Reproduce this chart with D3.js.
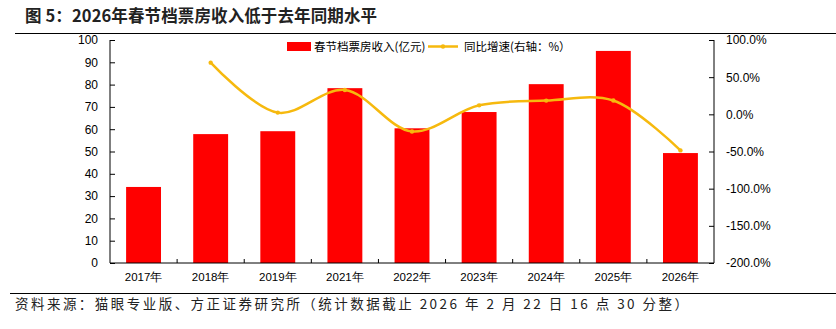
<!DOCTYPE html>
<html><head><meta charset="utf-8">
<script src="https://cdn.jsdelivr.net/npm/d3@7/dist/d3.min.js"></script>
<style>body{margin:0;background:#fff}svg{display:block}</style>
</head><body>
<svg id="c" width="836" height="329"></svg>
<script>
const categories = ["2017年","2018年","2019年","2021年","2022年","2023年","2024年","2025年","2026年"];
const boxOffice = [34.1, 57.8, 59.1, 78.4, 60.4, 67.7, 80.2, 95.1, 49.3];
const growth = [null, 69.5, 2.3, 32.8, -23.0, 12.1, 18.5, 18.6, -48.5];
const leftTicks = [0,10,20,30,40,50,60,70,80,90,100];
const rightTicks = [-200,-150,-100,-50,0,50,100];
const title = "图 5：2026年春节档票房收入低于去年同期水平";
const source = "资料来源：猫眼专业版、方正证券研究所（统计数据截止 2026 年 2 月 22 日 16 点 30 分整）";

const svg = d3.select("#c");
const L = 110, R = 714, T = 40, B = 263;
const x = d3.scaleBand().domain(categories).range([L, R]).paddingInner(0.48).paddingOuter(0.24);
const xb = d3.scaleBand().domain(categories).range([L, R]);
const y = d3.scaleLinear().domain([0, 100]).range([B, T]);
const y2 = d3.scaleLinear().domain([-200, 100]).range([B, T]);
const fontA = "'Liberation Sans', Arial, sans-serif";
const fontC = "'Noto Sans CJK SC', sans-serif";

// title
svg.append("text").attr("x", 25).attr("y", 22).attr("font-family", fontC).attr("font-weight", "bold")
  .attr("font-size", 16.5).attr("fill", "#222").attr("textLength", 352).attr("lengthAdjust", "spacing").text(title);
svg.append("line").attr("x1", 15).attr("x2", 836).attr("y1", 33.5).attr("y2", 33.5).attr("stroke", "#000").attr("stroke-width", 1);

// bars
svg.append("g").selectAll("rect").data(boxOffice).join("rect")
  .attr("x", (d, i) => x(categories[i])).attr("width", x.bandwidth())
  .attr("y", d => y(d)).attr("height", d => B - y(d)).attr("fill", "#FF0000");

// axes
const gl = svg.append("g").attr("transform", `translate(${L},0)`)
  .call(d3.axisLeft(y).tickValues(leftTicks).tickSize(-5).tickPadding(12));
const gr = svg.append("g").attr("transform", `translate(${R},0)`)
  .call(d3.axisRight(y2).tickValues(rightTicks).tickSize(-5).tickPadding(12).tickFormat(d => d.toFixed(1) + "%"));
const gb = svg.append("g").attr("transform", `translate(0,${B})`)
  .call(d3.axisBottom(xb).tickSize(0).tickPadding(10));
svg.append("g").selectAll("line").data(categories.slice(1)).join("line")
  .attr("x1", d => xb(d)).attr("x2", d => xb(d)).attr("y1", B).attr("y2", B - 4)
  .attr("stroke", "#000");
[gl, gr, gb].forEach(g => {
  g.selectAll("path.domain").attr("stroke", "#000");
  g.selectAll(".tick line").attr("stroke", "#000");
  g.selectAll("text").attr("font-family", fontA).attr("font-size", 12).attr("fill", "#000");
});
gb.selectAll("text").attr("font-size", 11.5);
gl.selectAll("path.domain").attr("d", `M0,${T}V${B}`);
gr.selectAll("path.domain").attr("d", `M0,${T}V${B}`);
gb.selectAll("path.domain").attr("d", `M${L},0H${R}`);

// line
const pts = growth.map((g, i) => [xb(categories[i]) + xb.bandwidth() / 2, g]).filter(p => p[1] !== null);
const line = d3.line().x(p => p[0]).y(p => y2(p[1])).curve(d3.curveCatmullRom.alpha(0.5));
svg.append("path").datum(pts).attr("d", line).attr("fill", "none")
  .attr("stroke", "#F6B90E").attr("stroke-width", 2.5);
svg.append("g").selectAll("circle").data(pts).join("circle")
  .attr("cx", p => p[0]).attr("cy", p => y2(p[1])).attr("r", 2.2).attr("fill", "#F6B90E");

// legend
const lg = svg.append("g");
lg.append("rect").attr("x", 287).attr("y", 42).attr("width", 24).attr("height", 9).attr("fill", "#FF0000");
lg.append("text").attr("x", 314).attr("y", 51).attr("font-family", fontC).attr("font-size", 11.5).attr("fill", "#000").text("春节档票房收入(亿元)");
lg.append("line").attr("x1", 428).attr("x2", 458).attr("y1", 46.5).attr("y2", 46.5).attr("stroke", "#F6B90E").attr("stroke-width", 2.5);
lg.append("circle").attr("cx", 443).attr("cy", 46.5).attr("r", 2.2).attr("fill", "#F6B90E");
lg.append("text").attr("x", 464).attr("y", 51).attr("font-family", fontC).attr("font-size", 11.5).attr("fill", "#000").text("同比增速(右轴：%）");

// source
svg.append("line").attr("x1", 10).attr("x2", 836).attr("y1", 293.5).attr("y2", 293.5).attr("stroke", "#000").attr("stroke-width", 1);
svg.append("text").attr("x", 15).attr("y", 309).attr("font-family", fontC).attr("font-size", 13.5).attr("fill", "#222")
  .attr("textLength", 673).attr("lengthAdjust", "spacing").text(source);
</script>
</body></html>
